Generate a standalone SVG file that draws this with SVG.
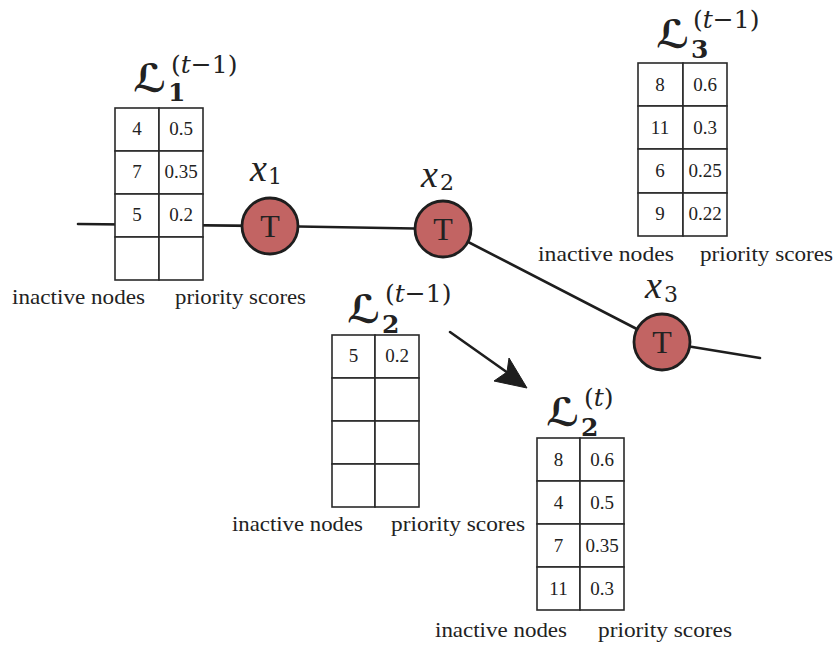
<svg xmlns="http://www.w3.org/2000/svg" width="837" height="648" viewBox="0 0 837 648">
<defs>
<style>
.cell{fill:#fff;stroke:#2a2a2a;stroke-width:1.6}
.num{font-family:"Liberation Serif","Times New Roman",serif;font-size:19px;fill:#222;text-anchor:middle}
.lbl{font-family:"Liberation Serif","Times New Roman",serif;font-size:21px;fill:#222}
.edge{stroke:#1e1e1e;stroke-width:2.6;fill:none;stroke-linecap:round}
.tnode{fill:#c26463;stroke:#1e1e1e;stroke-width:2.8}
.tlet{font-family:"Liberation Serif","Times New Roman",serif;font-size:32px;fill:#222;text-anchor:middle}
.cal{font-family:"DejaVu Serif","DejaVu Sans",serif;font-size:39px;font-weight:bold;font-style:italic;fill:#222}
.sub{font-family:"DejaVu Serif",serif;font-size:25px;font-weight:bold;fill:#222}
.sup{font-family:"DejaVu Serif",serif;font-size:25px;fill:#222}
.xv{font-family:"Liberation Serif","Times New Roman",serif;font-size:38px;font-style:italic;fill:#222}
.xs{font-family:"DejaVu Serif",serif;font-size:22px;fill:#222}
</style>
</defs>
<rect width="837" height="648" fill="#fff"/>
<g id="connectors">
<line class="edge" x1="78" y1="224" x2="270" y2="226"/>
<line class="edge" x1="270" y1="226" x2="443" y2="229"/>
<line class="edge" x1="443" y1="229" x2="662" y2="342"/>
<line class="edge" x1="662" y1="342" x2="760" y2="358"/>
<line class="edge" x1="450" y1="332" x2="508" y2="373"/>
<polygon points="527,388 494,381 507,372 509,358" fill="#1e1e1e" stroke="#1e1e1e" stroke-width="1" stroke-linejoin="round"/>
</g>
<g id="list1">
<rect class="cell" x="115" y="108" width="44" height="43"/><rect class="cell" x="159" y="108" width="44" height="43"/>
<rect class="cell" x="115" y="151" width="44" height="43"/><rect class="cell" x="159" y="151" width="44" height="43"/>
<rect class="cell" x="115" y="194" width="44" height="43"/><rect class="cell" x="159" y="194" width="44" height="43"/>
<rect class="cell" x="115" y="237" width="44" height="43"/><rect class="cell" x="159" y="237" width="44" height="43"/>
<text class="num" x="137" y="135">4</text><text class="num" x="181" y="135">0.5</text>
<text class="num" x="137" y="178">7</text><text class="num" x="181" y="178">0.35</text>
<text class="num" x="137" y="221">5</text><text class="num" x="181" y="221">0.2</text>
<text class="lbl" x="12" y="304" textLength="133" lengthAdjust="spacingAndGlyphs">inactive nodes</text>
<text class="lbl" x="175" y="304" textLength="131" lengthAdjust="spacingAndGlyphs">priority scores</text>
<text class="cal" x="133" y="92">ℒ</text>
<text class="sub" x="168" y="101">1</text>
<text class="sup" x="171" y="73">(<tspan font-style="italic">t</tspan>−1)</text>
</g>
<g id="list3">
<rect class="cell" x="638" y="63" width="45" height="43"/><rect class="cell" x="683" y="63" width="44" height="43"/>
<rect class="cell" x="638" y="106" width="45" height="43"/><rect class="cell" x="683" y="106" width="44" height="43"/>
<rect class="cell" x="638" y="149" width="45" height="44"/><rect class="cell" x="683" y="149" width="44" height="44"/>
<rect class="cell" x="638" y="193" width="45" height="43"/><rect class="cell" x="683" y="193" width="44" height="43"/>
<text class="num" x="660" y="91">8</text><text class="num" x="705" y="91">0.6</text>
<text class="num" x="660" y="134">11</text><text class="num" x="705" y="134">0.3</text>
<text class="num" x="660" y="177">6</text><text class="num" x="705" y="177">0.25</text>
<text class="num" x="660" y="220">9</text><text class="num" x="705" y="220">0.22</text>
<text class="lbl" x="538" y="261" textLength="136" lengthAdjust="spacingAndGlyphs">inactive nodes</text>
<text class="lbl" x="700" y="261" textLength="133" lengthAdjust="spacingAndGlyphs">priority scores</text>
<text class="cal" x="656" y="48">ℒ</text>
<text class="sub" x="691" y="58">3</text>
<text class="sup" x="693" y="28">(<tspan font-style="italic">t</tspan>−1)</text>
</g>
<g id="list2prev">
<rect class="cell" x="332" y="335" width="43" height="43"/><rect class="cell" x="375" y="335" width="44" height="43"/>
<rect class="cell" x="332" y="378" width="43" height="43"/><rect class="cell" x="375" y="378" width="44" height="43"/>
<rect class="cell" x="332" y="421" width="43" height="43"/><rect class="cell" x="375" y="421" width="44" height="43"/>
<rect class="cell" x="332" y="464" width="43" height="43"/><rect class="cell" x="375" y="464" width="44" height="43"/>
<text class="num" x="353.5" y="362">5</text><text class="num" x="397" y="362">0.2</text>
<text class="lbl" x="232" y="531" textLength="131" lengthAdjust="spacingAndGlyphs">inactive nodes</text>
<text class="lbl" x="391" y="531" textLength="134" lengthAdjust="spacingAndGlyphs">priority scores</text>
<text class="cal" x="347" y="323">ℒ</text>
<text class="sub" x="382" y="333">2</text>
<text class="sup" x="385" y="302">(<tspan font-style="italic">t</tspan>−1)</text>
</g>
<g id="list2next">
<rect class="cell" x="537" y="438" width="43" height="43"/><rect class="cell" x="580" y="438" width="44" height="43"/>
<rect class="cell" x="537" y="481" width="43" height="43"/><rect class="cell" x="580" y="481" width="44" height="43"/>
<rect class="cell" x="537" y="524" width="43" height="43"/><rect class="cell" x="580" y="524" width="44" height="43"/>
<rect class="cell" x="537" y="567" width="43" height="43"/><rect class="cell" x="580" y="567" width="44" height="43"/>
<text class="num" x="558.5" y="466">8</text><text class="num" x="602" y="466">0.6</text>
<text class="num" x="558.5" y="509">4</text><text class="num" x="602" y="509">0.5</text>
<text class="num" x="558.5" y="552">7</text><text class="num" x="602" y="552">0.35</text>
<text class="num" x="558.5" y="595">11</text><text class="num" x="602" y="595">0.3</text>
<text class="lbl" x="435" y="637" textLength="132" lengthAdjust="spacingAndGlyphs">inactive nodes</text>
<text class="lbl" x="598" y="637" textLength="134" lengthAdjust="spacingAndGlyphs">priority scores</text>
<text class="cal" x="546" y="426">ℒ</text>
<text class="sub" x="581" y="436">2</text>
<text class="sup" x="584" y="406">(<tspan font-style="italic">t</tspan>)</text>
</g>
<g id="x1">
<circle class="tnode" cx="270" cy="226" r="28"/>
<text class="tlet" x="270" y="237">T</text>
<text class="xv" x="250" y="181">x</text><text class="xs" x="268" y="184">1</text>
</g>
<g id="x2">
<circle class="tnode" cx="443" cy="229" r="28"/>
<text class="tlet" x="443" y="240">T</text>
<text class="xv" x="421" y="187">x</text><text class="xs" x="440" y="190">2</text>
</g>
<g id="x3">
<circle class="tnode" cx="662" cy="342" r="28"/>
<text class="tlet" x="662" y="353">T</text>
<text class="xv" x="645" y="298">x</text><text class="xs" x="664" y="302">3</text>
</g>
</svg>
